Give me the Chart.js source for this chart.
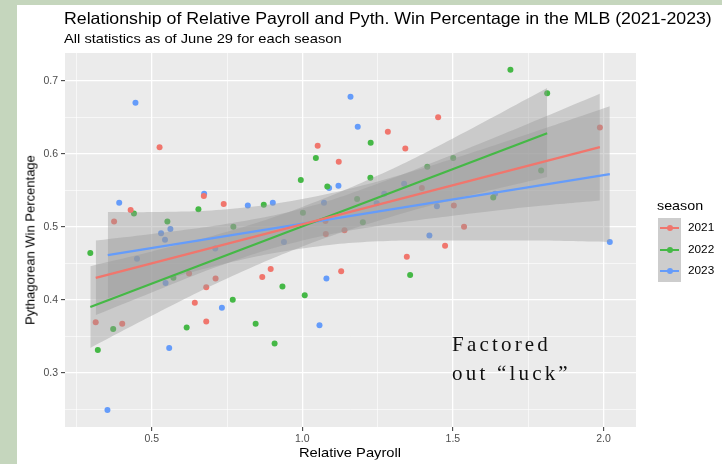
<!DOCTYPE html>
<html>
<head>
<meta charset="utf-8">
<script src="https://cdn.jsdelivr.net/npm/chart.js@4.4.1/dist/chart.umd.min.js"></script>
<style>
    body { margin: 0; background: #c5d6bd; font-family: "Liberation Sans", Arial, sans-serif; }
    #page { position: absolute; left: 17px; top: 5px; width: 705px; height: 459px; background: #fff; }
    #wrap { position: absolute; left: 0; top: 0; width: 722px; height: 464px; }
    .txt { position: absolute; white-space: nowrap; line-height: 1; }
    #title { left: 64px; top: 10px; font-size: 16.5px; color: #000; transform: scaleX(1.075); transform-origin: left center; }
    #subtitle { left: 64px; top: 32px; font-size: 13px; color: #000; transform: scaleX(1.13); transform-origin: left center; }
    #ytitle { left: 30px; top: 240px; font-size: 13px; color: #000; transform: translate(-50%, -50%) rotate(-90deg); }
    #xtitle { left: 350px; top: 452px; font-size: 13px; color: #000; transform: translate(-50%, -50%) scaleX(1.13); }
    #legtitle { left: 657px; top: 199px; font-size: 13px; color: #000; transform: scaleX(1.1); transform-origin: left center; }
    #legbox { position: absolute; left: 658px; top: 218px; width: 23px; height: 64px; background: #cdcdcd; }
    .key { position: absolute; left: 660px; width: 19px; height: 2.5px; }
    .key i { position: absolute; left: 6.5px; top: -1.75px; width: 6px; height: 6px; border-radius: 50%; }
    .leglab { left: 688px; font-size: 11px; color: #000; transform: scaleX(1.07); transform-origin: left center; }
    #note { left: 452px; top: 330px; font-family: "Liberation Serif", "Times New Roman", serif; font-size: 21px;
            letter-spacing: 3.2px; line-height: 29px; color: #111; }
</style>
</head>
<body>
<div id="page"></div>
<div id="wrap"><canvas id="chart" width="722" height="464"></canvas></div>
<div class="txt" id="title">Relationship of Relative Payroll and Pyth. Win Percentage in the MLB (2021-2023)</div>
<div class="txt" id="subtitle">All statistics as of June 29 for each season</div>
<div class="txt" id="ytitle">Pythagorean Win Percentage</div>
<div class="txt" id="xtitle">Relative Payroll</div>
<div class="txt" id="legtitle">season</div>
<div id="legbox"></div>
<div id="legend"></div>
<div class="txt" id="note">Factored<br>out “luck”</div>
<script>
const seasons = ['2021', '2022', '2023'];
const colors = ['#f0766d', '#45b846', '#659cfa'];

// relative payroll / pythagorean win % per team
const payroll2021 = [0.526, 0.430, 0.375, 0.673, 0.739, 1.051, 1.121, 1.284, 1.077, 1.078, 1.140, 1.342, 1.451, 1.397, 1.503,
    1.537, 1.474, 1.347, 1.988, 0.624, 0.712, 0.681, 0.643, 0.867, 0.895, 1.129, 0.314, 0.402, 0.681];
const pyth2021 = [0.609, 0.523, 0.507, 0.542, 0.531, 0.611, 0.589, 0.630, 0.508, 0.490, 0.495, 0.607, 0.650, 0.553, 0.529,
    0.500, 0.474, 0.459, 0.636, 0.436, 0.429, 0.417, 0.396, 0.431, 0.442, 0.439, 0.369, 0.367, 0.370];
const payroll2022 = [0.296, 0.441, 0.552, 0.655, 0.771, 0.872, 0.995, 1.002, 1.045, 1.083, 1.182, 1.201, 1.227, 1.226, 1.415,
    1.501, 1.634, 1.793, 1.691, 1.813, 1.358, 0.572, 0.769, 0.934, 1.008, 0.372, 0.616, 0.845, 0.321, 0.908];
const pyth2022 = [0.464, 0.518, 0.507, 0.524, 0.500, 0.530, 0.564, 0.519, 0.594, 0.555, 0.538, 0.506, 0.615, 0.567, 0.582,
    0.594, 0.540, 0.577, 0.715, 0.683, 0.434, 0.430, 0.400, 0.418, 0.406, 0.360, 0.362, 0.367, 0.331, 0.340];
const payroll2023 = [0.446, 0.392, 0.531, 0.562, 0.544, 0.674, 0.819, 0.902, 0.939, 1.089, 1.120, 1.160, 1.184, 1.072, 1.247,
    1.272, 1.338, 1.447, 1.640, 1.422, 2.021, 0.451, 0.711, 0.546, 0.733, 1.080, 1.057, 0.558, 0.353];
const pyth2023 = [0.670, 0.533, 0.491, 0.497, 0.482, 0.545, 0.529, 0.533, 0.479, 0.553, 0.556, 0.678, 0.637, 0.533, 0.532,
    0.545, 0.559, 0.528, 0.545, 0.488, 0.479, 0.456, 0.470, 0.423, 0.389, 0.429, 0.365, 0.334, 0.249];

// fitted lines
const fitX2021 = [0.314, 1.988], fitY2021 = [0.430, 0.609];
const fitX2022 = [0.296, 1.813], fitY2022 = [0.390, 0.628];
const fitX2023 = [0.354, 2.021], fitY2023 = [0.461, 0.572];

// confidence bands
const bandX2021 = [0.314, 0.5, 0.75, 1.0, 1.25, 1.5, 1.75, 1.988];
const bandHi2021 = [0.481, 0.490, 0.504, 0.525, 0.559, 0.599, 0.641, 0.682];
const bandLo2021 = [0.379, 0.410, 0.450, 0.481, 0.501, 0.515, 0.527, 0.536];
const bandX2022 = [0.296, 0.5, 0.75, 1.0, 1.25, 1.5, 1.813];
const bandHi2022 = [0.446, 0.466, 0.493, 0.527, 0.570, 0.621, 0.690];
const bandLo2022 = [0.334, 0.378, 0.429, 0.473, 0.508, 0.537, 0.568];
const bandX2023 = [0.354, 0.5, 0.75, 1.0, 1.25, 1.5, 1.75, 2.021];
const bandHi2023 = [0.520, 0.520, 0.524, 0.538, 0.562, 0.593, 0.627, 0.665];
const bandLo2023 = [0.402, 0.422, 0.450, 0.470, 0.480, 0.481, 0.481, 0.479];

const xMajor = [0.5, 1.0, 1.5, 2.0];
const xLabels = ['0.5', '1.0', '1.5', '2.0'];
const xMinor = [0.25, 0.75, 1.25, 1.75];
const yMajor = [0.3, 0.4, 0.5, 0.6, 0.7];
const yLabels = ['0.3', '0.4', '0.5', '0.6', '0.7'];
const yMinor = [0.25, 0.35, 0.45, 0.55, 0.65];

const zip = (xs, ys) => xs.map((x, i) => ({ x: x, y: ys[i] }));

const pointSets = [[payroll2021, pyth2021], [payroll2022, pyth2022], [payroll2023, pyth2023]];
const fitSets = [[fitX2021, fitY2021], [fitX2022, fitY2022], [fitX2023, fitY2023]];
const bandSets = [[bandX2021, bandHi2021, bandLo2021], [bandX2022, bandHi2022, bandLo2022], [bandX2023, bandHi2023, bandLo2023]];

const datasets = [];
seasons.forEach((s, i) => {
    datasets.push({
        type: 'scatter', label: s, data: zip(pointSets[i][0], pointSets[i][1]),
        backgroundColor: colors[i], borderWidth: 0, pointRadius: 3, order: 3
    });
});
seasons.forEach((s, i) => {
    const b = bandSets[i];
    datasets.push({
        type: 'line', data: zip(b[0], b[1]), borderWidth: 0, pointRadius: 0,
        tension: 0.4, fill: false, order: 2
    });
    datasets.push({
        type: 'line', data: zip(b[0], b[2]), borderWidth: 0, pointRadius: 0,
        tension: 0.4, fill: '-1', backgroundColor: 'rgba(153,153,153,0.4)', order: 2
    });
});
seasons.forEach((s, i) => {
    datasets.push({
        type: 'line', data: zip(fitSets[i][0], fitSets[i][1]), borderColor: colors[i],
        borderWidth: 2.3, pointRadius: 0, fill: false, order: 1
    });
});

// legend keys
const legend = document.getElementById('legend');
seasons.forEach((s, i) => {
    const cy = [228, 250, 271][i];
    legend.innerHTML += '<div class="key" style="top:' + (cy - 1.25) + 'px;background:' + colors[i] +
        '"><i style="background:' + colors[i] + '"></i></div>' +
        '<div class="txt leglab" style="top:' + (cy - 6) + 'px">' + s + '</div>';
});

const panelBg = {
    id: 'panelBg',
    beforeDraw(chart) {
        const a = chart.chartArea, c = chart.ctx;
        c.save();
        c.fillStyle = '#ebebeb';
        c.fillRect(a.left, a.top, a.right - a.left, a.bottom - a.top);
        c.restore();
    }
};

function gridOpts(major) {
    return {
        color: '#ffffff',
        lineWidth: ctx => (ctx.tick && major.includes(ctx.tick.value)) ? 1.3 : 0.6,
        tickColor: ctx => (ctx.tick && major.includes(ctx.tick.value)) ? '#333333' : 'rgba(0,0,0,0)',
        tickLength: 4,
        tickWidth: 1
    };
}

new Chart(document.getElementById('chart'), {
    type: 'scatter',
    data: { datasets: datasets },
    plugins: [panelBg],
    options: {
        responsive: false,
        animation: false,
        layout: { padding: { left: 0, top: 53, right: 86, bottom: 0 } },
        plugins: { legend: { display: false }, tooltip: { enabled: false } },
        scales: {
            x: {
                type: 'linear', min: 0.212, max: 2.108,
                afterBuildTicks: s => { s.ticks = xMinor.concat(xMajor).sort((a, b) => a - b).map(v => ({ value: v })); },
                afterFit: s => { s.height = 37; },
                border: { display: false },
                grid: gridOpts(xMajor),
                ticks: {
                    autoSkip: false, maxRotation: 0, padding: 2, color: '#4d4d4d',
                    font: { family: 'Liberation Sans', size: 10.5 },
                    callback: v => { const k = xMajor.indexOf(v); return k >= 0 ? xLabels[k] : ''; }
                }
            },
            y: {
                type: 'linear', min: 0.2256, max: 0.738,
                afterBuildTicks: s => { s.ticks = yMinor.concat(yMajor).sort((a, b) => a - b).map(v => ({ value: v })); },
                afterFit: s => { s.width = 65; },
                border: { display: false },
                grid: gridOpts(yMajor),
                ticks: {
                    autoSkip: false, padding: 3, color: '#4d4d4d',
                    font: { family: 'Liberation Sans', size: 10.5 },
                    callback: v => { const k = yMajor.indexOf(v); return k >= 0 ? yLabels[k] : ''; }
                }
            }
        }
    }
});
</script>
</body>
</html>
